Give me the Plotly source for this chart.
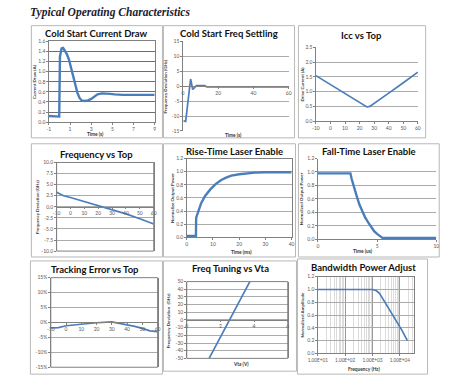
import plotly.graph_objects as go

W, H = 450, 386

# ---------------- data ----------------
cs_time = [-1, -0.5, -0.02, 0.05, 0.2, 0.35, 0.5, 0.7, 0.9, 1.1, 1.3, 1.5, 1.7, 1.9, 2.1, 2.4, 2.7,
           3.0, 3.3, 3.6, 4.0, 4.4, 4.8, 5.2, 5.6, 6.0, 7.0, 8.0, 9.0]
cs_current = [0.12, 0.12, 0.11, 1.30, 1.46, 1.47, 1.42, 1.35, 1.24, 1.08, 0.90, 0.73, 0.58, 0.48,
              0.43, 0.42, 0.43, 0.46, 0.51, 0.55, 0.57, 0.57, 0.56, 0.55, 0.54, 0.54, 0.54, 0.54, 0.54]

fs_time = [0.4, 1.6, 4.4, 5.6, 7.7, 12.3, 13.5, 20, 40, 60]
fs_dev = [-11.6, -11.8, 2.4, -1.1, 0.2, 0.2, -0.2, -0.2, -0.2, -0.2]

icc_top = [-10, 0, 10, 20, 23, 25, 27, 30, 40, 50, 60]
icc_current = [1.54, 1.23, 0.92, 0.61, 0.52, 0.48, 0.50, 0.60, 0.95, 1.30, 1.66]

fvt_top = [-10, -5, 0, 10, 20, 30, 40, 50, 60]
fvt_dev = [3.3, 2.5, 2.1, 1.2, 0.3, -0.6, -1.6, -2.7, -3.9]

rise_time = [0, 3.5, 3.6, 4.5, 5.5, 7, 9, 11, 13, 15, 17, 20, 23, 26, 30, 35, 40]
rise_power = [0.02, 0.02, 0.30, 0.42, 0.52, 0.63, 0.73, 0.81, 0.87, 0.91, 0.94, 0.96, 0.975, 0.985,
              0.99, 0.99, 0.99]

fall_time = [0, 2.75, 2.85, 3.0, 3.25, 3.5, 3.75, 4.0, 4.25, 4.5, 4.75, 5.0, 5.25, 5.45, 6, 8, 10]
fall_power = [0.98, 0.98, 0.90, 0.80, 0.66, 0.52, 0.41, 0.32, 0.25, 0.18, 0.12, 0.08, 0.04, 0.02,
              0.02, 0.02, 0.02]

te_top = [-10, -5, 0, 10, 20, 30, 40, 45, 50, 55, 60]
te_error = [-0.018, -0.017, -0.011, -0.005, -0.001, 0.002, -0.007, -0.013, -0.020, -0.028, -0.031]

vta_volts = [1.33, 3.75]
vta_dev = [-50, 50]

bw_freq = [10, 100, 1000, 1400, 1800, 2200, 3500, 6700, 12000, 19000]
bw_amp = [1.0, 1.0, 1.0, 0.98, 0.94, 0.88, 0.74, 0.54, 0.36, 0.20]

titles = ["Cold Start Current Draw", "Cold Start Freq Settling", "Icc vs Top",
          "Frequency vs Top", "Rise-Time Laser Enable", "Fall-Time Laser Enable",
          "Tracking Error vs Top", "Freq Tuning vs Vta", "Bandwidth Power Adjust"]
ytitles = ["Current Draw (A)", "Frequency Deviation (GHz)", "Drive Current (A)",
           "Frequency Deviation (GHz)", "Normalize Output Power", "Normalized Output Power",
           None, "Frequency Deviation  (GHz)", "Normalized Amplitude"]
xtitles = ["Time (s)", "Time (s)", None, None, "Time (ms)", "Time (us)", None, "Vta (V)",
           "Frequency (Hz)"]

# ---------------- layout geometry (pixels) ----------------
frames = [(22, 23, 157, 137), (158, 23, 293, 137), (297, 23, 428, 137),
          (22, 143, 157, 258), (158, 143, 294, 258), (297, 143, 442, 258),
          (21, 262, 157, 377), (158, 262, 295, 374), (296, 260, 430, 377)]
plots = [(40, 39, 149, 121), (178, 39, 287, 130), (315, 45, 420, 120),
         (48, 162, 148, 252), (182, 158, 290, 238), (317, 158, 439, 240),
         (42, 279, 152, 370), (182, 283, 286, 361), (317, 278, 416, 356)]
title_pos = [(89, 30.5), (226, 30.5), (362, 33), (89, 154), (231, 151), (370, 151),
             (88, 271), (227, 270), (364, 269)]
ytitle_x = [26, 160, 301, 29, 168, 301, None, 164, 301]
xtitle_pos = [(88, 133), (230, 134), None, None, (238, 253), (363, 252), None, (238, 367),
              (365, 372)]

LINE = "#4A7EBB"
GRID = "#ababab"
TICKC = "#595959"
FONT = "Lato"


def px_x(x):
    return x / W


def px_y(y):
    return 1 - y / H


def fmt(v, dec=0, pct=False):
    if pct:
        s = f"{v*100:.0f}%"
    else:
        s = f"{v:.{dec}f}"
    return s


series = [(cs_time, cs_current, 2.4), (fs_time, fs_dev, 1.7), (icc_top, icc_current, 1.7),
          (fvt_top, fvt_dev, 1.7), (rise_time, rise_power, 2.4), (fall_time, fall_power, 2.4),
          (te_top, te_error, 1.7), (vta_volts, vta_dev, 1.7), (bw_freq, bw_amp, 1.7)]

xcfg = [
    dict(range=[-1, 9], ticks=[-1, 1, 3, 5, 7, 9], dec=0),
    dict(range=[0, 60], ticks=[0, 20, 40, 60], dec=0, zero=True),
    dict(range=[-10, 60], ticks=list(range(-10, 61, 10)), dec=0),
    dict(range=[-10, 60], ticks=list(range(-10, 61, 10)), dec=0, zero=True),
    dict(range=[0, 40], ticks=[0, 10, 20, 30, 40], dec=0),
    dict(range=[0, 10], ticks=[0, 5, 10], dec=0),
    dict(range=[-10, 60], ticks=list(range(-10, 61, 10)), dec=0, zero=True),
    dict(range=[0, 6], ticks=[0, 2, 4, 6], dec=0, zero=True),
    dict(range=[1, 4.52], ticks=[10, 100, 1000, 10000], log=True),
]
ycfg = [
    dict(range=[0, 1.6], ticks=[0, 0.2, 0.4, 0.6, 0.8, 1.0, 1.2, 1.4, 1.6], dec=1),
    dict(range=[-15, 15], ticks=[-15, -10, -5, 0, 5, 10, 15], dec=0),
    dict(range=[0, 2.5], ticks=[0, 0.5, 1, 1.5, 2, 2.5], dec=1),
    dict(range=[-10, 10], ticks=[-10, -7.5, -5, -2.5, 0, 2.5, 5, 7.5, 10], dec=1),
    dict(range=[0, 1.2], ticks=[0, 0.2, 0.4, 0.6, 0.8, 1.0, 1.2], dec=1),
    dict(range=[0, 1.2], ticks=[0, 0.2, 0.4, 0.6, 0.8, 1.0, 1.2], dec=1),
    dict(range=[-0.15, 0.15], ticks=[-0.15, -0.10, -0.05, 0, 0.05, 0.10, 0.15], pct=True),
    dict(range=[-50, 50], ticks=list(range(-50, 51, 10)), dec=0),
    dict(range=[0, 1.2], ticks=[0, 0.2, 0.4, 0.6, 0.8, 1.0, 1.2], dec=1),
]
boxed = [True, False, False, True, True, False, True, True, True]

fig = go.Figure()
shapes = []
annotations = []

for i in range(9):
    n = "" if i == 0 else str(i + 1)
    xa, ya = "xaxis" + n, "yaxis" + n
    x0, y0, x1, y1 = plots[i]
    xs, ys, lw = series[i]
    fig.add_trace(go.Scatter(x=xs, y=ys, mode="lines", xaxis="x" + n, yaxis="y" + n,
                             line=dict(color=LINE, width=lw), showlegend=False,
                             hoverinfo="skip"))
    xc, yc = xcfg[i], ycfg[i]
    ydom = [px_y(y1), px_y(y0)]
    gridc = "#6e6e6e" if i == 0 else GRID

    if xc.get("log"):
        xtext = [f"{v:.2E}" for v in xc["ticks"]]
        xfs = 4.7
    else:
        xtext = [fmt(v, xc["dec"]) for v in xc["ticks"]]
        xfs = 5
    xax = dict(domain=[px_x(x0), px_x(x1)], range=xc["range"], tickvals=xc["ticks"],
               ticktext=xtext, tickfont=dict(family=FONT, size=xfs, color=TICKC),
               showgrid=False, zeroline=False, showline=True, linecolor="#808080",
               linewidth=1, ticks="outside", ticklen=1.5, tickcolor="#808080",
               fixedrange=True)
    if xc.get("log"):
        xax.update(type="log", showgrid=True, gridcolor="#9a9a9a", gridwidth=1,
                   minor=dict(dtick="D1", showgrid=True, gridcolor="#dcdcdc", ticks=""))
    if xc.get("zero"):
        r = yc["range"]
        pos = ydom[0] + (0 - r[0]) / (r[1] - r[0]) * (ydom[1] - ydom[0])
        xax.update(anchor="free", position=pos, linecolor="#808080")
    else:
        xax.update(anchor="y" + n)
    if boxed[i] and not xc.get("zero"):
        xax.update(mirror=True)
    fig.update_layout(**{xa: xax})

    if yc.get("pct"):
        ytext = [fmt(v, pct=True) for v in yc["ticks"]]
    else:
        ytext = [fmt(v, yc["dec"]) for v in yc["ticks"]]
    yax = dict(domain=ydom, range=yc["range"], tickvals=yc["ticks"], ticktext=ytext,
               tickfont=dict(family=FONT, size=5, color=TICKC), anchor="x" + n,
               showgrid=True, gridcolor=gridc, gridwidth=1, zeroline=False,
               showline=True, linecolor="#808080", linewidth=1, ticks="outside",
               ticklen=1.5, tickcolor="#808080", fixedrange=True)
    if boxed[i]:
        yax.update(mirror=True)
    fig.update_layout(**{ya: yax})

    if boxed[i] and xc.get("zero"):
        shapes.append(dict(type="rect", xref="paper", yref="paper", x0=px_x(x0), x1=px_x(x1),
                           y0=px_y(y1), y1=px_y(y0), line=dict(color="#808080", width=1)))

    fx0, fy0, fx1, fy1 = frames[i]
    shapes.append(dict(type="rect", xref="paper", yref="paper", x0=px_x(fx0), x1=px_x(fx1),
                       y0=px_y(fy1), y1=px_y(fy0), line=dict(color="#b8b8b8", width=1),
                       layer="below"))

    tx, ty = title_pos[i]
    annotations.append(dict(text=f"<b>{titles[i]}</b>", x=px_x(tx), y=px_y(ty), xref="paper",
                            yref="paper", showarrow=False, xanchor="center", yanchor="middle",
                            font=dict(family=FONT, size=9.5, color="#111111")))
    if ytitles[i]:
        annotations.append(dict(text=f"<b>{ytitles[i]}</b>", x=px_x(ytitle_x[i]),
                                y=px_y((y0 + y1) / 2), xref="paper", yref="paper",
                                showarrow=False, textangle=-90, xanchor="center",
                                yanchor="middle",
                                font=dict(family=FONT, size=4.5, color="#333333")))
    if xtitles[i]:
        ax_, ay_ = xtitle_pos[i]
        annotations.append(dict(text=f"<b>{xtitles[i]}</b>", x=px_x(ax_), y=px_y(ay_),
                                xref="paper", yref="paper", showarrow=False,
                                xanchor="center", yanchor="middle",
                                font=dict(family=FONT, size=4.8, color="#333333")))

annotations.append(dict(text="<b><i>Typical Operating Characteristics</i></b>", x=px_x(19),
                        y=px_y(10), xref="paper", yref="paper", showarrow=False,
                        xanchor="left", yanchor="middle",
                        font=dict(family="Liberation Serif", size=11.5, color="#1b1b2f")))

fig.update_layout(width=W, height=H, margin=dict(l=0, r=0, t=0, b=0),
                  paper_bgcolor="white", plot_bgcolor="white", shapes=shapes,
                  annotations=annotations, showlegend=False)

fig.write_html("out.html", config={"displayModeBar": False, "staticPlot": True},
               post_script="document.body.style.margin='0';document.body.style.overflow='hidden';")
